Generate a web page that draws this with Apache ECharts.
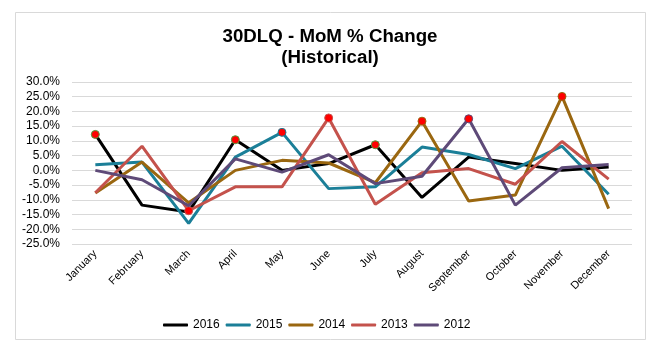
<!DOCTYPE html>
<html>
<head>
<meta charset="utf-8">
<title>30DLQ - MoM % Change</title>
<script src="https://cdn.jsdelivr.net/npm/echarts@6/dist/echarts.min.js"></script>
<style>
  html, body { margin: 0; padding: 0; background: #fff; }
  #chart { width: 660px; height: 352px; }
</style>
</head>
<body>
<div id="chart"></div>
<script>
// 月份
var months = ['January', 'February', 'March', 'April', 'May', 'June', 'July',
  'August', 'September', 'October', 'November', 'December']

// 每年的环比变化 (%)
var y2016 = [12.2, -11.8, -14.1, 10.4, 0.0, 2.3, 8.7, -9.2, 4.5, 2.3, 0.0, 1.1]
var y2015 = [1.9, 2.8, -18.0, 4.5, 12.9, -6.2, -5.6, 7.9, 5.4, 0.6, 8.2, -8.1]
var y2014 = [-7.7, 2.8, -11.0, 0.0, 3.4, 2.5, -4.2, 16.7, -10.4, -8.4, 25.1, -13.0]
var y2013 = [-7.6, 8.2, -13.7, -5.6, -5.6, 17.8, -11.5, -0.8, 0.6, -4.7, 9.8, -3.0]
var y2012 = [0.0, -3.2, -12.0, 3.9, -0.6, 5.3, -4.5, -2.0, 17.5, -11.8, 0.9, 2.0]

// 红点标记的月份 (索引)
var dots2016 = [0, 3, 6]
var dots2015 = [4]
var dots2014 = [7, 10]
var dots2013 = [2, 5]
var dots2012 = [8]

var yearNames = ['2016', '2015', '2014', '2013', '2012']
var yearValues = [y2016, y2015, y2014, y2013, y2012]
var yearDots = [dots2016, dots2015, dots2014, dots2013, dots2012]
var colors = ['#000000', '#1b7f98', '#9a6710', '#c4524c', '#5e4a78']
var dotBorders = ['#4e9a3c', '#1b7f98', '#9a6710', '#c4524c', '#5e4a78']

var font = "'Liberation Sans', Arial, sans-serif"

function buildData (values, dots, border) {
  return values.map(function (v, i) {
    if (dots.indexOf(i) < 0) return v
    return {
      value: v,
      symbol: 'circle',
      symbolSize: 8,
      itemStyle: { color: '#ff0000', borderColor: border, borderWidth: 1 }
    }
  })
}

var chart = echarts.init(document.getElementById('chart'))

chart.setOption({
  animation: false,
  backgroundColor: '#ffffff',
  graphic: [{
    type: 'rect',
    shape: { x: 15.5, y: 12.5, width: 630, height: 327 },
    style: { fill: 'none', stroke: '#d9d9d9', lineWidth: 1 },
    silent: true
  }],
  title: {
    text: '30DLQ - MoM % Change\n(Historical)',
    left: 'center',
    top: 21,
    textStyle: {
      fontFamily: font,
      fontSize: 18.7,
      fontWeight: 'bold',
      color: '#000',
      lineHeight: 21
    }
  },
  legend: {
    data: yearNames,
    left: 158,
    top: 314,
    icon: 'roundRect',
    itemWidth: 25,
    itemHeight: 3,
    itemGap: 6,
    textStyle: { fontFamily: font, fontSize: 12, color: '#000' }
  },
  grid: {
    left: 72,
    right: 28,
    top: 82,
    bottom: 108
  },
  xAxis: {
    type: 'category',
    data: months,
    boundaryGap: true,
    axisLine: { show: false },
    axisTick: { show: false },
    axisLabel: {
      interval: 0,
      rotate: 45,
      margin: 8,
      fontFamily: font,
      fontSize: 11,
      color: '#000'
    }
  },
  yAxis: {
    type: 'value',
    min: -25,
    max: 30,
    interval: 5,
    axisLine: { show: false },
    axisTick: { show: false },
    splitLine: { lineStyle: { color: '#d9d9d9', width: 1 } },
    axisLabel: {
      margin: 12,
      fontFamily: font,
      fontSize: 12,
      color: '#000',
      formatter: function (v) { return v.toFixed(1) + '%' }
    }
  },
  series: yearNames.map(function (name, k) {
    return {
      name: name,
      type: 'line',
      data: buildData(yearValues[k], yearDots[k], dotBorders[k]),
      symbol: 'none',
      showAllSymbol: true,
      color: colors[k],
      lineStyle: { width: 3, color: colors[k] },
      z: 2 + k
    }
  })
})
</script>
</body>
</html>
